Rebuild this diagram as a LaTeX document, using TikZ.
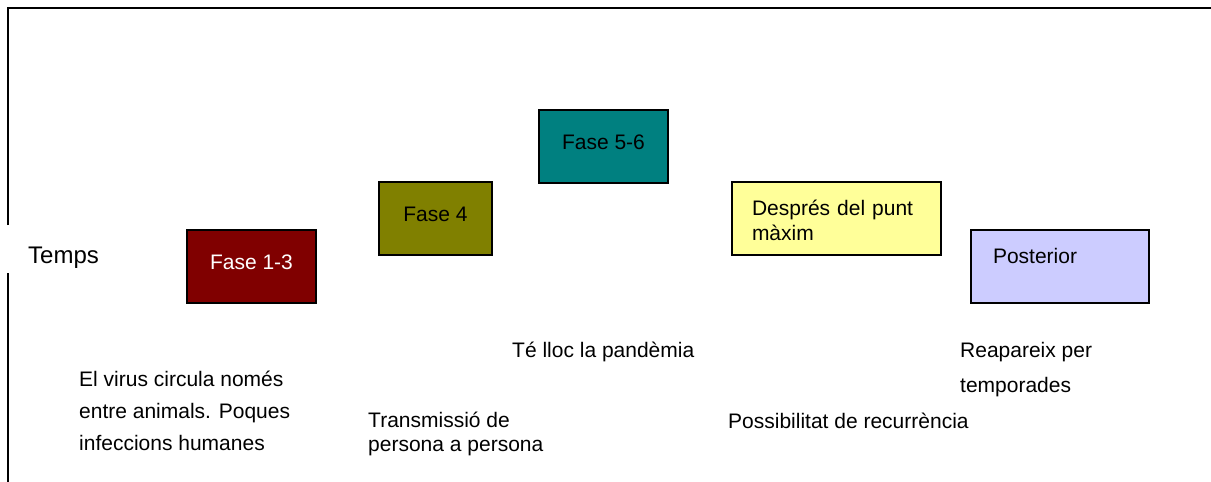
\documentclass[tikz,border=0pt]{standalone}
\usepackage{fontspec}
\setmainfont{Liberation Sans}
\usepackage{xcolor}
\usepackage{tikz}

\begin{document}
\begin{tikzpicture}[x=1pt,y=-1pt]
    \definecolor{myvermell}{RGB}{128,0,0}
    \definecolor{myoliva}{RGB}{128,128,0}
    \definecolor{myblavo}{RGB}{0,128,128}
    \definecolor{mygroc}{RGB}{255,255,153}
    \definecolor{mylila}{RGB}{204,204,255}

    \tikzstyle{fase}=[rectangle,draw,line width=1.5pt,minimum height=73pt,inner sep=0pt,font=\fontsize{21}{25}\selectfont,text height=15pt,text depth=10pt]  % caixes de fase
    \tikzstyle{faseesq}=[fase,align=left,text depth=22pt]  % caixes amb text a l'esquerra
    \tikzstyle{nota}=[align=left,inner sep=0pt,anchor=base west]  % textos de sota (base = darrera linia)
    \tikzstyle{marc}=[line width=1.5pt]

    \useasboundingbox (0,0) rectangle (1211,482);

    % marc
    \draw[marc] (8,482) -- (8,273);
    \draw[marc] (8,225) -- (8,8) -- (1211,8);

    % caixes
    \node[fase,fill=myvermell,text=white,minimum width=129pt](f13) at (251.5,266.5){Fase 1-3};
    \node[fase,fill=myoliva,minimum width=113pt](f4) at (435.5,218.5){Fase 4};
    \node[fase,fill=myblavo,minimum width=129pt](f56) at (603.5,146.5){Fase 5-6};
    \node[faseesq,fill=mygroc,minimum width=209pt,inner xsep=20pt,text width=169pt](despres) at (836.5,218.5){Després del punt\\màxim};
    \node[faseesq,fill=mylila,minimum width=178pt,inner xsep=22pt,text width=134pt](post) at (1060,266.5){Posterior};

    % textos
    \node[nota,font=\fontsize{24}{28}\selectfont](temps) at (28,263){Temps};
    \node[nota,font=\fontsize{21}{32}\selectfont](t13) at (79,450){El virus circula només\\entre animals. Poques\\infeccions humanes};
    \node[nota,font=\fontsize{21}{24}\selectfont](t4) at (368,451){Transmissió de\\persona a persona};
    \node[nota,font=\fontsize{21}{25}\selectfont](t56) at (512,357){Té lloc la pandèmia};
    \node[nota,font=\fontsize{21}{25}\selectfont](tdespres) at (728,428){Possibilitat de recurrència};
    \node[nota,font=\fontsize{21}{35}\selectfont](tpost) at (960,392){Reapareix per\\temporades};
\end{tikzpicture}
\end{document}
